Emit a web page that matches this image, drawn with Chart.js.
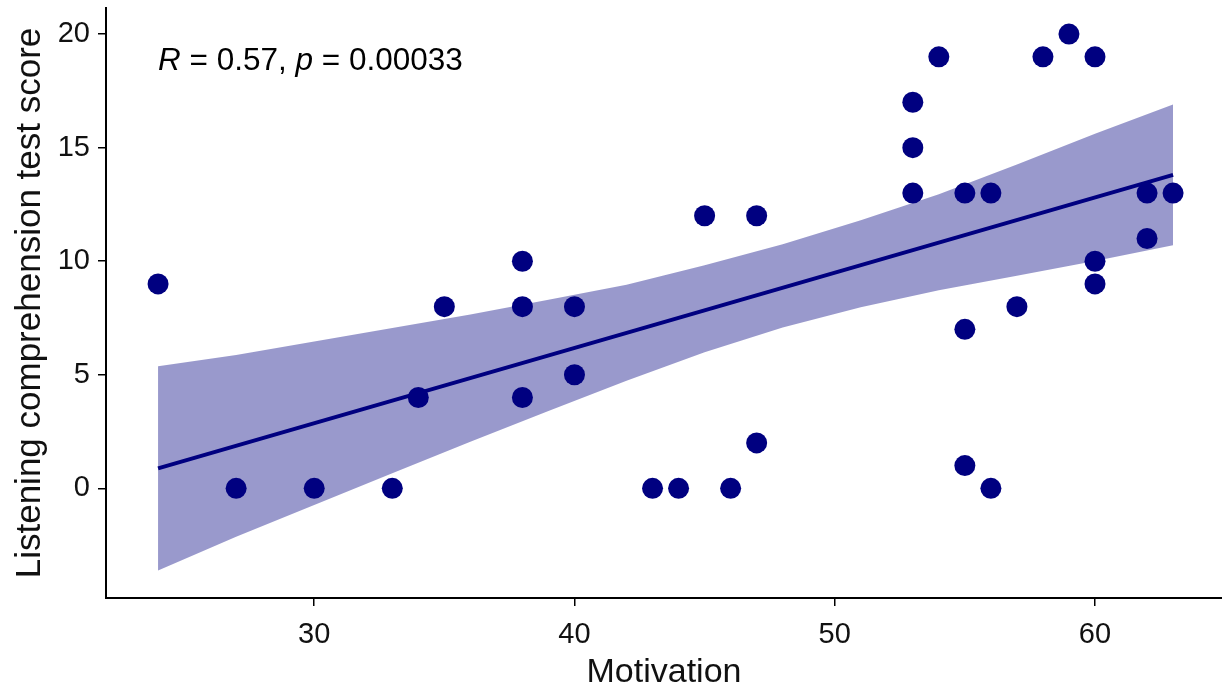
<!DOCTYPE html>
<html>
<head>
<meta charset="utf-8">
<script src="https://cdn.jsdelivr.net/npm/chart.js@4.4.1/dist/chart.umd.min.js"></script>
<style>
  html, body { margin: 0; padding: 0; background: #ffffff; }
  #wrap { width: 1222px; height: 690px; }
</style>
</head>
<body>
<div id="wrap"><canvas id="c" width="1222" height="690"></canvas></div>
<script>
// ---- data ----
const motivation = [24,27,30,33,34,35,38,38,38,40,40,43,44,45,46,47,47,53,53,53,54,55,55,55,56,56,57,58,59,60,60,60,62,62,63];
const score      = [ 9, 0, 0, 0, 4, 8,10, 8, 4, 8, 5, 0, 0,12, 0,12, 2,17,15,13,19,13, 7, 1,13, 0, 8,19,20,19,10, 9,13,11,13];

// regression line (end points) and confidence band
const fitX = [24, 63];
const fitY = [0.88, 13.8];
const bandX     = [24, 27, 30, 33, 36, 39, 42, 45, 48, 51, 54, 57, 60, 63];
const bandUpper = [5.38, 5.87, 6.47, 7.06, 7.65, 8.30, 8.96, 9.82, 10.75, 11.80, 12.95, 14.26, 15.61, 16.90];
const bandLower = [-3.62, -2.13, -0.73, 0.66, 2.05, 3.40, 4.74, 5.99, 7.08, 7.97, 8.72, 9.36, 10.01, 10.70];

const xTicks = [30, 40, 50, 60];
const yTicks = [0, 5, 10, 15, 20];
const corR = "0.57";
const corP = "0.00033";
const xTitle = "Motivation";
const yTitle = "Listening comprehension test score";

// ---- chart ----
const NAVY = '#000080';
const FONT = '"Liberation Sans", Arial, Helvetica, sans-serif';

const pts = motivation.map((x, i) => ({x, y: score[i]}));
const fitPts = fitX.map((x, i) => ({x, y: fitY[i]}));
const upPts = bandX.map((x, i) => ({x, y: bandUpper[i]}));
const loPts = bandX.map((x, i) => ({x, y: bandLower[i]}));

const annotation = {
  id: 'corLabel',
  afterDatasetsDraw(chart) {
    const ctx = chart.ctx;
    const xs = chart.scales.x, ys = chart.scales.y;
    let x = xs.getPixelForValue(24);
    const y = ys.getPixelForValue(18.4);
    const parts = [
      {t: 'R', it: true}, {t: ' = ' + corR + ', ', it: false},
      {t: 'p', it: true}, {t: ' = ' + corP, it: false}
    ];
    ctx.save();
    ctx.fillStyle = '#000';
    ctx.textBaseline = 'alphabetic';
    ctx.textAlign = 'left';
    for (const p of parts) {
      ctx.font = (p.it ? 'italic ' : '') + '31.5px ' + FONT;
      ctx.fillText(p.t, x, y);
      x += ctx.measureText(p.t).width;
    }
    ctx.restore();
  }
};

function noPad(s) {
  s.paddingTop = 0; s.paddingBottom = 0; s.paddingLeft = 0; s.paddingRight = 0;
}

new Chart(document.getElementById('c'), {
  type: 'scatter',
  data: {
    datasets: [
      {
        label: 'points',
        data: pts,
        order: 0,
        pointRadius: 10.5,
        pointHoverRadius: 10.5,
        pointBackgroundColor: NAVY,
        pointBorderWidth: 0,
        borderWidth: 0,
        showLine: false,
        clip: false
      },
      {
        label: 'fit',
        type: 'line',
        data: fitPts,
        order: 1,
        borderColor: NAVY,
        borderWidth: 4,
        pointRadius: 0,
        fill: false,
        tension: 0
      },
      {
        label: 'upper',
        type: 'line',
        data: upPts,
        order: 2,
        borderWidth: 0,
        borderColor: 'rgba(0,0,0,0)',
        pointRadius: 0,
        backgroundColor: 'rgba(0,0,128,0.4)',
        fill: '+1',
        tension: 0
      },
      {
        label: 'lower',
        type: 'line',
        data: loPts,
        order: 3,
        borderWidth: 0,
        borderColor: 'rgba(0,0,0,0)',
        pointRadius: 0,
        fill: false,
        tension: 0
      }
    ]
  },
  options: {
    responsive: false,
    animation: false,
    events: [],
    layout: { autoPadding: false, padding: { top: 8, right: 0, bottom: 0, left: 0 } },
    plugins: {
      legend: { display: false },
      tooltip: { enabled: false }
    },
    scales: {
      x: {
        type: 'linear',
        min: 22.0,
        max: 64.88,
        afterBuildTicks: s => { s.ticks = xTicks.map(v => ({value: v})); },
        afterFit: s => { s.height = 92; noPad(s); },
        ticks: {
          color: '#111',
          font: { family: FONT, size: 29 },
          padding: 12,
          maxRotation: 0,
          autoSkip: false
        },
        grid: { display: true, drawOnChartArea: false, drawTicks: true, tickLength: 8, color: '#000', lineWidth: 1.5 },
        border: { display: true, color: '#000', width: 2 },
        title: {
          display: true,
          text: xTitle,
          color: '#111',
          font: { family: FONT, size: 34, lineHeight: 1 },
          padding: { top: 0, bottom: 0 }
        }
      },
      y: {
        type: 'linear',
        min: -4.83,
        max: 21.15,
        afterBuildTicks: s => { s.ticks = yTicks.map(v => ({value: v})); },
        afterFit: s => { s.width = 106; noPad(s); },
        ticks: {
          color: '#111',
          font: { family: FONT, size: 29 },
          padding: 8,
          autoSkip: false
        },
        grid: { display: true, drawOnChartArea: false, drawTicks: true, tickLength: 8, color: '#000', lineWidth: 1.5 },
        border: { display: true, color: '#000', width: 2 },
        title: {
          display: true,
          text: yTitle,
          color: '#111',
          font: { family: FONT, size: 35, lineHeight: 1 },
          padding: { top: 13, bottom: 0 }
        }
      }
    }
  },
  plugins: [annotation]
});
</script>
</body>
</html>
